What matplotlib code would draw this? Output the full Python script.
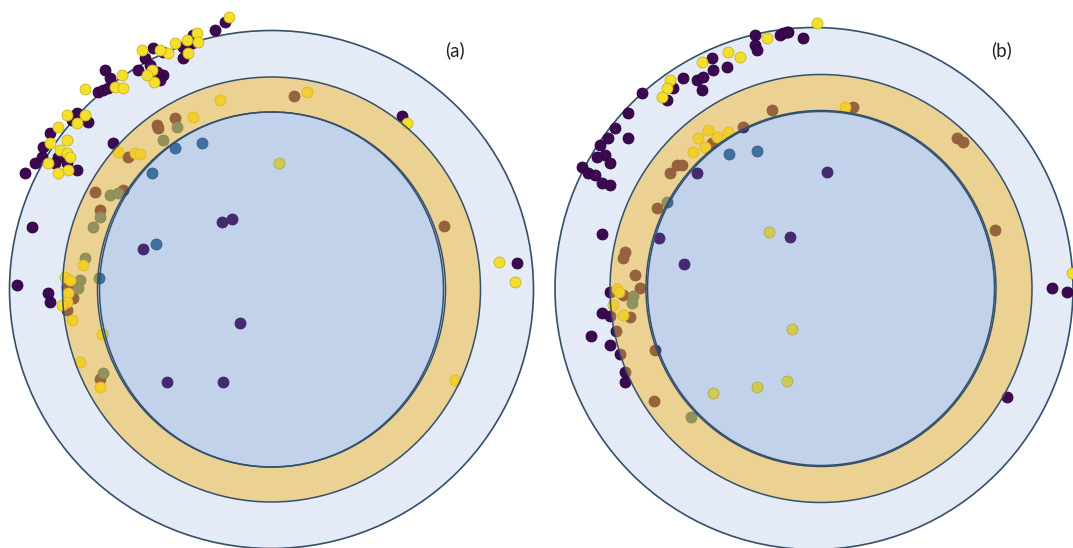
import matplotlib
matplotlib.use("Agg")
import matplotlib.pyplot as plt
from matplotlib.patches import Ellipse, Annulus

# ---------------- data (image-like coordinates, y grows downward) ----------------
panel_labels = ["(a)", "(b)"]
label_pos = [(455, 50), (1002, 50)]

# ring geometry per panel: centre, outer disk, orange band, inner disk
centers = [(271.5, 289.5), (821, 288.5)]
outer_centers = [(271.5, 289.5), (814, 288.5)]
outer_axes = [(262, 259), (259, 261)]
band_outer_axes = [(209, 212.5), (211, 214)]
band_width = [35, 36]
inner_axes = [(172, 177.5), (173.5, 177)]

# panel (a)
a_purple_x = [225, 215, 193, 192, 183, 183, 163, 153, 145, 150, 163, 160, 138, 157, 110, 105,
              98, 103, 108, 77, 88, 72, 50, 43, 58, 42, 55, 67, 35, 77, 25, 113, 32, 17, 48, 50,
              402, 517, 222, 232, 143, 240, 167, 223, 294, 175, 157, 158, 128, 95, 123, 100, 67,
              73, 67, 100, 444]
a_purple_y = [22, 30, 35, 43, 47, 58, 52, 48, 58, 65, 75, 80, 70, 72, 78, 70,
              92, 90, 88, 113, 122, 120, 133, 147, 157, 157, 163, 163, 163, 170, 173, 143, 227, 285, 293, 302,
              116, 263, 222, 219, 249, 323, 382, 382, 96, 118, 125, 128, 157, 192, 190, 210, 287,
              298, 310, 379, 226]
a_yellow_x = [229, 197, 187, 198, 175, 168, 188, 142, 160, 152, 154, 147, 122, 85, 115, 123,
              67, 85, 77, 58, 67, 50, 60, 67, 70, 48, 68, 58, 407, 499, 515,
              220, 193, 307, 118, 135, 140, 83, 65, 70, 68, 67, 62, 72, 80, 100, 455, 102, 279]
a_yellow_y = [17, 33, 40, 42, 43, 53, 53, 50, 50, 70, 82, 75, 75, 89, 87, 88,
              115, 115, 123, 127, 140, 143, 150, 153, 157, 163, 170, 173, 123, 262, 282,
              100, 117, 92, 152, 153, 154, 265, 277, 280, 293, 302, 305, 320, 362, 387, 380, 334, 163]
a_teal_x = [177, 163, 110, 118, 100, 93, 85, 80, 78, 103, 175, 202, 152, 156, 99]
a_teal_y = [127, 140, 195, 193, 217, 227, 258, 280, 288, 373, 148, 143, 173, 244, 278]

# panel (b)
b_purple_x = [755, 780, 788, 783, 803, 787, 755, 757, 712, 713, 727, 697, 703, 702, 683, 673,
              667, 642, 628, 615, 628, 608, 600, 605, 597, 610, 582, 588, 595, 602, 610, 602,
              610, 602, 610, 591, 610, 625, 625, 1052, 1067, 1007,
              827, 697, 659, 684, 790,
              772, 743, 712, 670, 677, 682, 853, 957, 963, 995, 657, 625, 623, 635, 640, 623,
              630, 616, 620, 655, 654]
b_purple_y = [35, 35, 32, 33, 38, 32, 45, 50, 58, 70, 67, 80, 77, 90, 78, 88,
              100, 93, 113, 128, 138, 138, 145, 155, 157, 163, 167, 173, 175, 183, 185, 234,
              292, 313, 316, 336, 345, 372, 382, 288, 292, 397,
              172, 173, 238, 264, 237,
              110, 127, 143, 173, 165, 165, 107, 138, 142, 230, 208, 252, 258, 275, 288, 295,
              317, 331, 354, 350, 401]
b_yellow_x = [817, 767, 728, 740, 702, 670, 667, 662, 1072,
              708, 698, 717, 728, 705, 693, 845, 617, 619, 613, 623,
              769, 792, 713, 757, 787]
b_yellow_y = [23, 38, 52, 57, 62, 80, 88, 97, 273,
              130, 138, 137, 132, 147, 152, 107, 289, 292, 305, 315,
              232, 329, 393, 387, 381]
b_teal_x = [729, 757, 667, 633, 632, 691]
b_teal_y = [154, 151, 202, 296, 303, 417]

panels = [
    dict(purple=(a_purple_x, a_purple_y), yellow=(a_yellow_x, a_yellow_y), teal=(a_teal_x, a_teal_y)),
    dict(purple=(b_purple_x, b_purple_y), yellow=(b_yellow_x, b_yellow_y), teal=(b_teal_x, b_teal_y)),
]

# ---------------- style ----------------
W, H = 1073, 548
c_outer = "#e4eaf6"
c_band = "#f2bc30"      # drawn with alpha over the outer disk
c_inner = "#648ece"     # drawn with alpha over the outer disk
c_edge = "#34506c"
point_colors = {"purple": ("#3d0852", "#2a0038"),
                "teal": ("#31688e", "#234d6b"),
                "yellow": ("#f4df2c", "#c9b41c")}

fig = plt.figure(figsize=(W / 100, H / 100), dpi=100)
ax = fig.add_axes([0, 0, 1, 1])
ax.set_xlim(0, W)
ax.set_ylim(H, 0)
ax.axis("off")

for i, p in enumerate(panels):
    cx, cy = centers[i]
    ox, oy = outer_axes[i]
    ax.add_patch(Ellipse(outer_centers[i], 2 * ox, 2 * oy, facecolor=c_outer,
                         edgecolor=c_edge, lw=1.2, zorder=1))
    for name in ["purple", "teal", "yellow"]:
        xs, ys = p[name]
        fc, ec = point_colors[name]
        ax.scatter(xs, ys, s=62, facecolor=fc, edgecolor=ec, linewidths=0.6, zorder=2)
    bx, by = band_outer_axes[i]
    ax.add_patch(Annulus((cx, cy), (bx, by), band_width[i], facecolor=c_band,
                         alpha=0.5, edgecolor="none", zorder=3))
    ax.add_patch(Annulus((cx, cy), (bx, by), band_width[i], facecolor="none",
                         edgecolor=c_edge, lw=1.1, zorder=4))
    ix, iy = inner_axes[i]
    ax.add_patch(Ellipse((cx, cy), 2 * ix, 2 * iy, facecolor=c_inner, alpha=0.25,
                         edgecolor="none", zorder=3))
    ax.add_patch(Ellipse((cx, cy), 2 * ix, 2 * iy, facecolor="none",
                         edgecolor=c_edge, lw=1.1, zorder=4))
    ax.text(label_pos[i][0], label_pos[i][1], panel_labels[i], fontsize=13.5,
            family="Lato", ha="center", va="center", color="#222222", zorder=5)

fig.savefig("out.png", dpi=100)
